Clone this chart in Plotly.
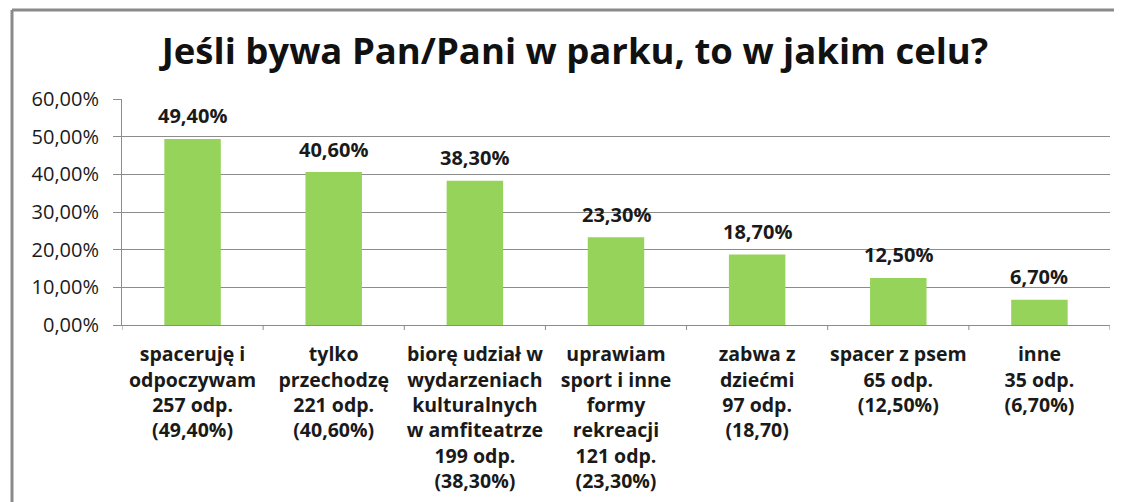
import plotly.graph_objects as go

categories = [
    "spaceruję i<br>odpoczywam<br>257 odp.<br>(49,40%)",
    "tylko<br>przechodzę<br>221 odp.<br>(40,60%)",
    "biorę udział w<br>wydarzeniach<br>kulturalnych<br>w amfiteatrze<br>199 odp.<br>(38,30%)",
    "uprawiam<br>sport i inne<br>formy<br>rekreacji<br>121 odp.<br>(23,30%)",
    "zabwa z<br>dziećmi<br>97 odp.<br>(18,70)",
    "spacer z psem<br>65 odp.<br>(12,50%)",
    "inne<br>35 odp.<br>(6,70%)",
]
values = [49.4, 40.6, 38.3, 23.3, 18.7, 12.5, 6.7]
y_ticks = [0, 10, 20, 30, 40, 50, 60]
title_text = "Jeśli bywa Pan/Pani w parku, to w jakim celu?"

FONT = "Open Sans"
BAR = "#95D35A"
GRID = "#8C8C8C"

def pct(v):
    return f"{v:.2f}".replace(".", ",") + "%"

# the page body has an 8px margin, so the figure is 8px smaller
W, H = 1114, 494
L, R, T, B = 114, 12, 91, 177
PW, PH = W - L - R, H - T - B

fig = go.Figure()
fig.add_trace(go.Bar(
    x=list(range(len(categories))), y=values,
    marker=dict(color=BAR, line=dict(width=0)),
    width=0.40,
    hoverinfo="skip",
))

for i, v in enumerate(values):
    fig.add_annotation(
        x=i, y=v, text=pct(v),
        showarrow=False, yshift=23, xref="x", yref="y",
        font=dict(family=FONT, size=20, color="#1a1a1a", weight="bold"),
    )

fig.update_layout(
    width=W, height=H,
    margin=dict(l=L, r=R, t=T, b=B, autoexpand=False),
    paper_bgcolor="white", plot_bgcolor="white",
    showlegend=False,
    title=dict(text=title_text, x=(575 - 8 - L) / PW, xref="paper", xanchor="center",
               y=1 - (51 - 8) / H, yanchor="middle", automargin=False,
               font=dict(family=FONT, size=36.5, color="#111111", weight="bold")),
    xaxis=dict(
        tickmode="array", tickvals=list(range(len(categories))), ticktext=categories,
        range=[-0.5, len(categories) - 0.5],
        showline=True, linecolor=GRID, linewidth=1,
        ticks="", showgrid=False, automargin=False,
        tickfont=dict(family=FONT, size=19.5, color="#1a1a1a", weight="bold"),
        tickangle=0,
        ticklabelstandoff=12,
    ),
    yaxis=dict(
        range=[0, 60], tickmode="array", tickvals=y_ticks, ticktext=[pct(t) for t in y_ticks],
        showgrid=True, gridcolor=GRID, gridwidth=1,
        showline=True, linecolor=GRID, linewidth=1,
        ticks="outside", ticklen=8, tickcolor=GRID, automargin=False,
        tickfont=dict(family=FONT, size=20, color="#1a1a1a"),
        zeroline=False,
        ticklabelstandoff=10,
    ),
)

# category boundary tick marks on the x axis
for b in range(len(categories) + 1):
    fig.add_shape(type="line", xref="x", yref="paper",
                  x0=b - 0.5, x1=b - 0.5, y0=0, y1=-5 / PH,
                  line=dict(color=GRID, width=1))

# chart frame (top and left edges visible)
fx = (12 - 8 - L) / PW
fy = (PH + T - (10 - 8)) / PH
fig.add_shape(type="line", xref="paper", yref="paper",
              x0=fx, x1=1.05, y0=fy, y1=fy,
              line=dict(color="#8a8a8a", width=3))
fig.add_shape(type="line", xref="paper", yref="paper",
              x0=fx, x1=fx, y0=fy, y1=-(B + 20) / PH,
              line=dict(color="#8a8a8a", width=3))

fig.write_html("out.html")
